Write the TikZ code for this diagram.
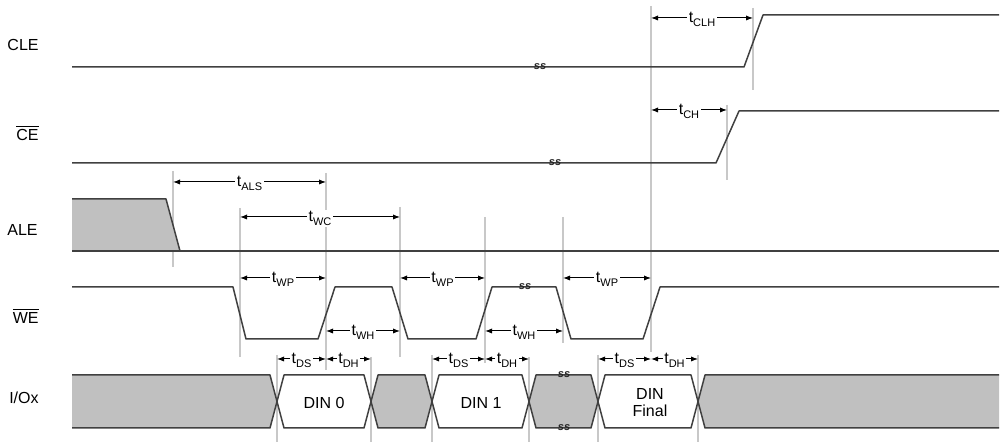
\documentclass[tikz,border=0pt]{standalone}
\usepackage{fontspec}
\setmainfont{Liberation Sans}
\usepackage{xcolor}
\usetikzlibrary{arrows.meta}
\definecolor{sig}{HTML}{404040}
\definecolor{bus}{HTML}{C0C0C0}
\definecolor{guide}{HTML}{C8C8C8}
\newcommand{\tsub}[1]{t\raisebox{-1.8pt}{\fontsize{5.5}{6}\selectfont #1}}
\tikzset{
  wave/.style={draw=sig, line width=0.75pt, line join=round},
  guideline/.style={draw=guide, line width=0.7pt},
  tarr/.style={{Latex[length=3.5pt,width=2.6pt]}-{Latex[length=3.5pt,width=2.6pt]}, line width=0.5pt},
  tlab/.style={fill=white, inner sep=0.8pt, anchor=base, yshift=-2.5pt, font=\fontsize{8}{9}\selectfont},
  signame/.style={anchor=east, inner sep=0pt, font=\fontsize{8}{9}\selectfont},
  busname/.style={font=\fontsize{8}{8.5}\selectfont, align=center},
  brk/.style={font=\fontsize{5.5}{6}\selectfont\bfseries\itshape, inner sep=0pt, text=black!85}
}

\begin{document}
\begin{tikzpicture}[x=0.5pt, y=-0.5pt]
  \useasboundingbox (0,0) rectangle (1000,442);
  % guides
  \foreach \x/\ya/\yb in {173/171/267, 240/208/357, 326/173/370, 400/207/357,
      485/217/363, 563/217/343, 651/6/352, 727/105/180, 753/8/90,
      277/355/442, 371/357/442, 432/355/442, 529/357/442, 598/355/442, 698/355/442}
    \draw[guideline] (\x,\ya) -- (\x,\yb);
  % signal names
  \node[signame] (cle) at (39,45) {CLE};
  \node[signame] (ce) at (39,133) {$\overline{\mbox{CE}}$};
  \node[signame] (ale) at (38,230) {ALE};
  \node[signame] (we) at (39,316) {$\overline{\mbox{WE}}$};
  \node[signame] (io) at (39,398) {I/Ox};
  % CLE, CE
  \draw[wave] (72,67) -- (744,67) -- (763,15) -- (999,15);
  \draw[wave] (72,163) -- (716,163) -- (739,111) -- (999,111);
  % ALE
  \fill[bus] (72,199) -- (166,199) -- (180,251) -- (72,251) -- cycle;
  \draw[wave] (72,199) -- (166,199) -- (180,251);
  \draw[wave] (72,251) -- (999,251);
  % WE
  \draw[wave] (72,287) -- (233,287) -- (246,339) -- (318,339) -- (335,287)
    -- (392,287) -- (408,339) -- (476,339) -- (492,287) -- (556,287)
    -- (571,339) -- (643,339) -- (660,287) -- (999,287);
  % I/Ox
  \fill[bus] (72,375) -- (270,375) -- (277,401.5) -- (270,428) -- (72,428) -- cycle;
  \draw[wave] (72,375) -- (270,375) -- (277,401.5) -- (270,428) -- (72,428);
  \filldraw[wave, fill=bus] (371,401.5) -- (378,375) -- (425,375) -- (432,401.5) -- (425,428) -- (378,428) -- cycle;
  \filldraw[wave, fill=bus] (529,401.5) -- (536,375) -- (591,375) -- (598,401.5) -- (591,428) -- (536,428) -- cycle;
  \fill[bus] (698,401.5) -- (705,375) -- (999,375) -- (999,428) -- (705,428) -- cycle;
  \draw[wave] (999,375) -- (705,375) -- (698,401.5) -- (705,428) -- (999,428);
  \draw[wave] (277,401.5) -- (284,375) -- (364,375) -- (371,401.5) -- (364,428) -- (284,428) -- cycle;
  \draw[wave] (432,401.5) -- (439,375) -- (522,375) -- (529,401.5) -- (522,428) -- (439,428) -- cycle;
  \draw[wave] (598,401.5) -- (605,375) -- (691,375) -- (698,401.5) -- (691,428) -- (605,428) -- cycle;
  \node[busname] (din0) at (324,403) {DIN 0};
  \node[busname] (din1) at (481,403) {DIN 1};
  \node[busname] (dinf) at (650,403) {DIN\\Final};
  % timing
  \foreach \n/\xa/\xb/\y/\lab in {als/173/326/182/ALS, wc/240/400/217/WC,
      wp1/240/326/278/WP, wp2/400/485/278/WP, wp3/563/651/278/WP,
      wh1/326/400/331/WH, wh2/485/563/331/WH,
      ds1/277/326/359/DS, ds2/432/485/359/DS, ds3/598/651/359/DS,
      dh1/326/371/359/DH, dh2/485/529/359/DH, dh3/651/698/359/DH,
      clh/651/753/18/CLH, ch/651/727/110/CH} {
    \coordinate (\n-a) at (\xa,\y);
    \coordinate (\n-b) at (\xb,\y);
    \draw[tarr] (\n-a) -- (\n-b) node[tlab, midway] (\n) {\tsub{\lab}};
  }
  % breaks
  \node[brk] (brk1) at (540,67) {ss};
  \node[brk] (brk2) at (555,163) {ss};
  \node[brk] (brk3) at (525,287) {ss};
  \node[brk] (brk4) at (564,375) {ss};
  \node[brk] (brk5) at (564,428) {ss};
\end{tikzpicture}
\end{document}
